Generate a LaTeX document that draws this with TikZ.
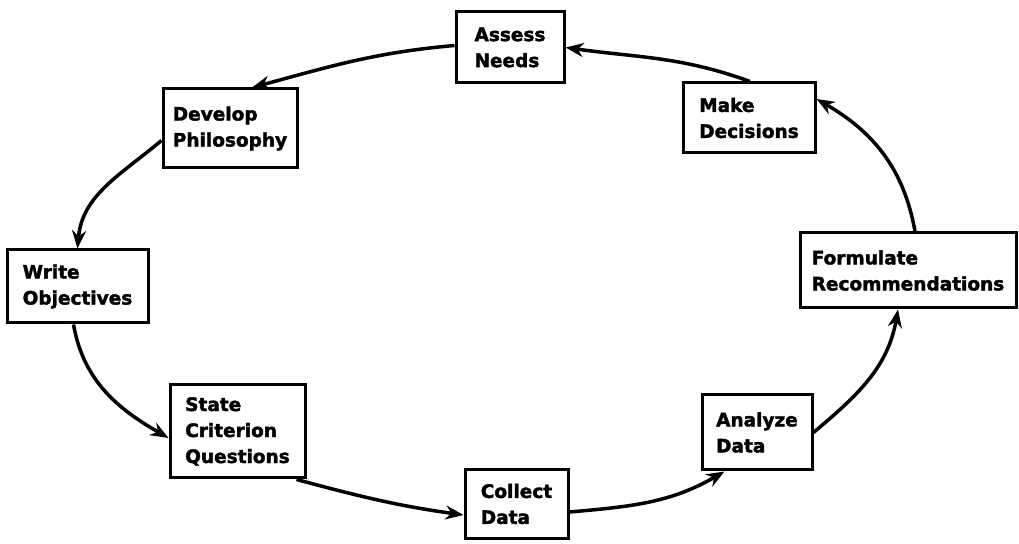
\documentclass[tikz,border=0pt]{standalone}
\usepackage{fontspec}
\setmainfont{DejaVu Sans}[BoldFeatures={FakeBold=2}]
\usetikzlibrary{arrows.meta}
\begin{document}
\begin{tikzpicture}[x=1pt,y=1pt,
  box/.style={draw, line width=3pt, align=left, inner sep=0pt,
    font=\fontsize{18.5}{26}\selectfont\bfseries},
  flow/.style={line width=3.5pt, -{Stealth[length=18pt,width=14pt]}}]
\useasboundingbox (0,0) rectangle (1019,543);
\node[box, minimum width=108pt, minimum height=71pt] (assess) at (510,495.5) {Assess\\Needs};
\node[box, minimum width=134pt, minimum height=79pt] (develop) at (230,414.5) {Develop\\Philosophy};
\node[box, minimum width=132pt, minimum height=70pt] (make) at (749,425) {Make\\Decisions};
\node[box, minimum width=141pt, minimum height=73pt] (write) at (77.5,256.5) {Write\\Objectives};
\node[box, minimum width=216pt, minimum height=75pt] (formulate) at (908,272.5) {Formulate\\Recommendations};
\node[box, minimum width=135pt, minimum height=93pt] (state) at (237.5,111.5) {State\\Criterion\\Questions};
\node[box, minimum width=103pt, minimum height=68pt] (collect) at (516.5,39) {Collect\\Data};
\node[box, minimum width=110pt, minimum height=75pt] (analyze) at (757,110.5) {Analyze\\Data};

\draw[flow] ([xshift=1pt]make.north) to[out=160,in=-8] (assess.east);
\draw[flow] ([yshift=2pt]assess.west) to[out=185,in=15] ([xshift=22pt]develop.north);
\draw[flow] ([yshift=-12pt]develop.west) to[out=220,in=85] (write.north);
\draw[flow] ([xshift=-4pt]write.south) to[out=-80,in=150] ([yshift=-6.5pt]state.west);
\draw[flow] ([xshift=-10pt]state.south east) to[out=-15,in=172] ([yshift=-11pt]collect.west);
\draw[flow] ([yshift=-8pt]collect.east) to[out=5,in=210] ([xshift=24pt]analyze.south west);
\draw[flow] (analyze.east) to[out=40,in=-100] ([xshift=-10pt]formulate.south);
\draw[flow] ([xshift=7pt]formulate.north) to[out=100,in=-30] ([yshift=19pt]make.east);
\end{tikzpicture}
\end{document}
